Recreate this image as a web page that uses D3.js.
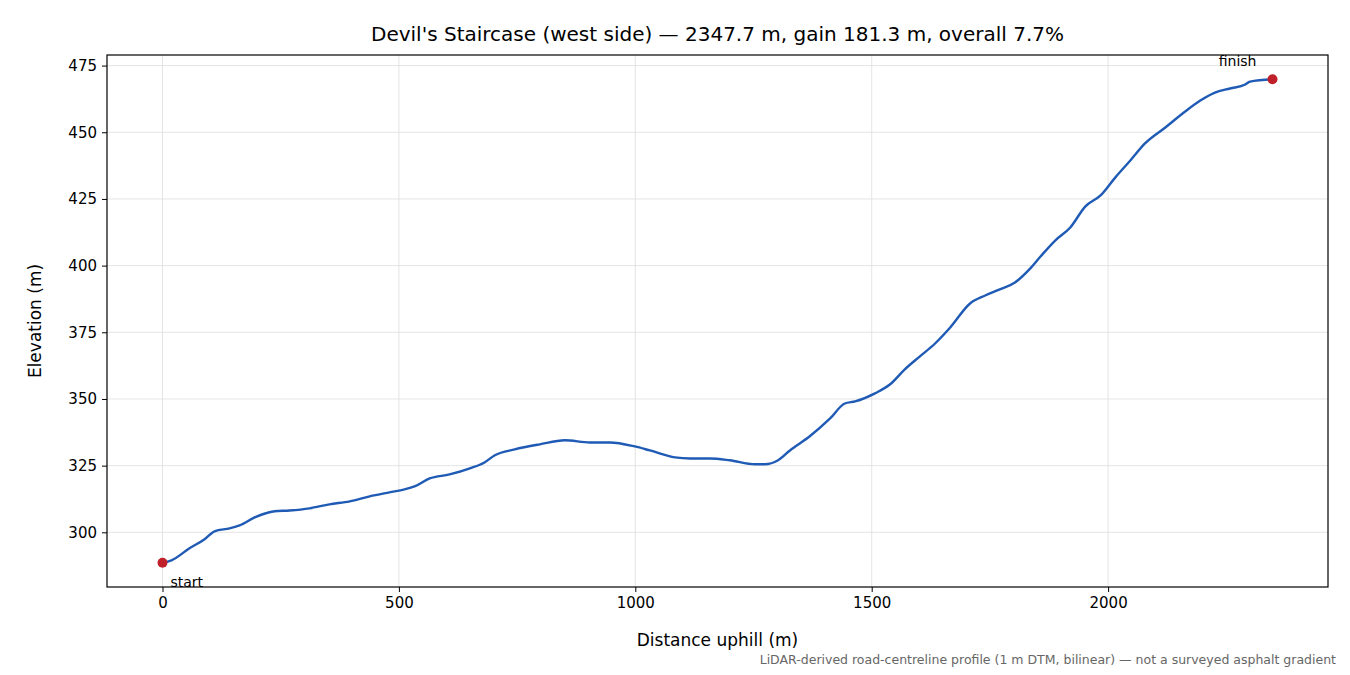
<!DOCTYPE html><html><head><meta charset="utf-8"><script src="https://cdn.jsdelivr.net/npm/d3@7"></script>
<style>body{margin:0;background:#fff}text{font-family:"DejaVu Sans"}</style></head><body><svg id="c" width="1350" height="675" font-family="DejaVu Sans"></svg><script>
const dist=[0,19,57,89,110,142,163,195,237,269,311,353,396,438,480,512,533,565,607,650,681,703,745,798,851,904,946,999,1031,1084,1116,1158,1200,1253,1274,1302,1327,1369,1412,1443,1465,1507,1539,1570,1602,1634,1666,1708,1740,1771,1803,1835,1857,1888,1920,1952,1984,2015,2047,2078,2121,2163,2195,2226,2258,2290,2300,2347.7];
const elev=[288.6,289.5,294,297.4,300.4,301.5,302.6,305.6,307.9,308.2,309,310.5,311.6,313.5,315,316.1,317.2,320.2,321.7,324,326.2,328.9,331.1,333,334.5,333.7,333.7,332.2,330.7,328.1,327.7,327.7,327,325.5,325.5,327,330.7,336,342.7,348.3,349.1,352.1,355.5,361.1,366,370.8,376.8,385.8,388.8,391.1,393.7,398.9,403.4,409.4,414.3,422.2,426.3,433,439.4,445.8,451.8,457.8,461.9,464.9,466.4,467.9,469,469.9];
const xTicks=[0,500,1000,1500,2000];
const yTicks=[300,325,350,375,400,425,450,475];
const svg=d3.select("#c");
const F="DejaVu Sans";
const L=107,R=1328,T=55,B=587;
const x=d3.scaleLinear().domain([-117.4,2465.1]).range([L,R]);
const y=d3.scaleLinear().domain([279.5,478.97]).range([B,T]);
const g=svg.append("g");
xTicks.forEach(t=>g.append("line").attr("x1",x(t)).attr("x2",x(t)).attr("y1",T).attr("y2",B).attr("stroke","#ddd").attr("stroke-width",0.8));
yTicks.forEach(t=>g.append("line").attr("y1",y(t)).attr("y2",y(t)).attr("x1",L).attr("x2",R).attr("stroke","#ddd").attr("stroke-width",0.8));
const xa=svg.append("g").attr("transform",`translate(0,${B})`).call(d3.axisBottom(x).tickValues(xTicks).tickFormat(d3.format("d")).tickSize(5).tickPadding(5));
const ya=svg.append("g").attr("transform",`translate(${L},0)`).call(d3.axisLeft(y).tickValues(yTicks).tickFormat(d3.format("d")).tickSize(5).tickPadding(5));
[xa,ya].forEach(a=>{a.select(".domain").remove();a.selectAll("text").attr("font-size",15).attr("fill","#000").attr("font-family",F);});
svg.append("rect").attr("x",L).attr("y",T).attr("width",R-L).attr("height",B-T).attr("fill","none").attr("stroke","#000").attr("stroke-width",1.2);
const pts=dist.map((d,i)=>[d,elev[i]]);
svg.append("path").datum(pts).attr("d",d3.line().x(d=>x(d[0])).y(d=>y(d[1])).curve(d3.curveMonotoneX)).attr("fill","none").attr("stroke","#1f5bb5").attr("stroke-width",2.4);
const n=dist.length-1;
[[0],[n]].forEach(([i])=>svg.append("circle").attr("cx",x(dist[i])).attr("cy",y(elev[i])).attr("r",5).attr("fill","#c0202a"));
svg.append("text").attr("font-family",F).attr("x",x(dist[0])+8).attr("y",y(elev[0])+24).attr("font-size",14).text("start");
svg.append("text").attr("font-family",F).attr("x",x(dist[n])-16).attr("y",y(elev[n])-13).attr("font-size",14).attr("text-anchor","end").text("finish");
svg.append("text").attr("font-family",F).attr("x",(L+R)/2).attr("y",41).attr("text-anchor","middle").attr("font-size",20).text("Devil's Staircase (west side) — 2347.7 m, gain 181.3 m, overall 7.7%");
svg.append("text").attr("font-family",F).attr("x",(L+R)/2).attr("y",646).attr("text-anchor","middle").attr("font-size",17).text("Distance uphill (m)");
svg.append("text").attr("font-family",F).attr("transform",`translate(41,${(T+B)/2}) rotate(-90)`).attr("text-anchor","middle").attr("font-size",17).text("Elevation (m)");
svg.append("text").attr("font-family",F).attr("x",1336).attr("y",664).attr("text-anchor","end").attr("font-size",12.5).attr("fill","#666").text("LiDAR-derived road-centreline profile (1 m DTM, bilinear) — not a surveyed asphalt gradient");
</script></body></html>
